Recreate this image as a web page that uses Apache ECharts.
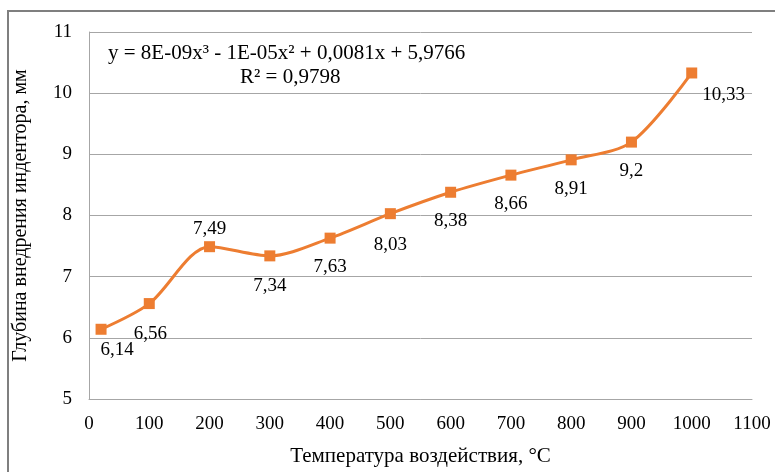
<!DOCTYPE html>
<html>
<head>
<meta charset="utf-8">
<script src="https://cdn.jsdelivr.net/npm/echarts@6/dist/echarts.min.js"></script>
<style>
  html, body { margin: 0; padding: 0; background: #fff; }
  #chart { width: 775px; height: 472px; }
</style>
</head>
<body>
<div id="chart"></div>
<script>
// температура, °C
var temps = [20, 100, 200, 300, 400, 500, 600, 700, 800, 900, 1000];
// глубина внедрения, мм
var depths = [6.14, 6.56, 7.49, 7.34, 7.63, 8.03, 8.38, 8.66, 8.91, 9.2, 10.33];
var xTicks = { min: 0, max: 1100, interval: 100 };
var yTicks = { min: 5, max: 11, interval: 1 };

// label offsets from the marker centre (px)
var labelShift = [[16, 21], [1, 30], [0, -18], [0, 30], [0, 29], [0, 31],
  [0, 29], [0, 29], [0, 29], [0, 29], [32, 22]];

var font = "'Liberation Serif', 'Times New Roman', serif";

var seriesData = temps.map(function (t, i) {
  return {
    value: [t, depths[i]],
    label: { position: "inside", offset: labelShift[i] }
  };
});

var chart = echarts.init(document.getElementById("chart"));
chart.setOption({
  animation: false,
  graphic: [
    {
      type: "rect",
      shape: { x: 8, y: 11, width: 800, height: 500 },
      style: { fill: "none", stroke: "#7f7f7f", lineWidth: 2 }
    },
    {
      type: "text",
      left: 108,
      top: 43,
      style: {
        text: "y = 8E-09x³ - 1E-05x² + 0,0081x + 5,9766",
        font: "21px " + font,
        fill: "#000"
      }
    },
    {
      type: "text",
      left: 240,
      top: 67,
      style: {
        text: "R² = 0,9798",
        font: "21px " + font,
        fill: "#000"
      }
    }
  ],
  grid: { left: 89, right: 23, top: 32, bottom: 71 },
  xAxis: {
    type: "value",
    min: xTicks.min,
    max: xTicks.max,
    interval: xTicks.interval,
    name: "Температура воздействия, °C",
    nameLocation: "middle",
    nameGap: 47,
    nameTextStyle: { fontFamily: font, fontSize: 21, color: "#000" },
    axisLine: { show: true, lineStyle: { color: "#a6a6a6", width: 1 } },
    axisTick: { show: false },
    axisLabel: {
      fontFamily: font, fontSize: 19, color: "#000", margin: 16,
      formatter: function (v) { return String(v); }
    },
    splitLine: { show: false }
  },
  yAxis: {
    type: "value",
    min: yTicks.min,
    max: yTicks.max,
    interval: yTicks.interval,
    name: "Глубина внедрения индентора, мм",
    nameLocation: "middle",
    nameGap: 58,
    nameTextStyle: { fontFamily: font, fontSize: 20, color: "#000" },
    axisLine: { show: true, lineStyle: { color: "#a6a6a6", width: 1 } },
    axisTick: { show: false },
    axisLabel: { fontFamily: font, fontSize: 19, color: "#000", margin: 17 },
    splitLine: { show: true, lineStyle: { color: "#a6a6a6", width: 1 } }
  },
  series: [
    {
      type: "line",
      data: seriesData,
      smooth: 0.3,
      symbol: "rect",
      symbolSize: 11,
      itemStyle: { color: "#ED7D31" },
      lineStyle: { color: "#ED7D31", width: 3 },
      label: {
        show: true,
        formatter: function (p) {
          return String(p.value[1]).replace(".", ",");
        },
        fontFamily: font,
        fontSize: 19,
        color: "#000"
      }
    }
  ]
});
</script>
</body>
</html>
